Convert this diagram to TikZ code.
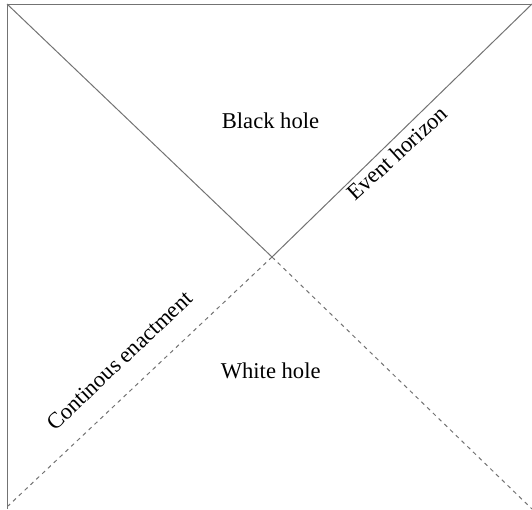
\documentclass[tikz,border=0pt]{standalone}
\usepackage{fontspec}
\setmainfont{Liberation Serif}
\begin{document}
\begin{tikzpicture}[x=1pt,y=-1pt,
  edge/.style={draw=black!55, line width=1pt},
  dashededge/.style={draw=black!55, line width=1pt, dash pattern=on 4pt off 4pt},
  lbl/.style={inner sep=0pt, font=\fontsize{22.6}{26}\selectfont}]
\useasboundingbox (0,0) rectangle (532,509);
\coordinate (tl) at (7,4);
\coordinate (tr) at (532,4);
\coordinate (bl) at (7,509);
\coordinate (blend) at (8,506);
\coordinate (br) at (532,509);
\coordinate (c) at (272,257);
\draw[edge] (tl) -- (tr);
\draw[edge] (tl) -- (bl);
\draw[edge] (tl) -- (c);
\draw[edge] (tr) -- (c);
\draw[dashededge] (c) -- (blend);
\draw[dashededge] (c) -- (br);
\node[lbl, anchor=base] (bh) at (270.5,128.3) {Black hole};
\node[lbl, anchor=base] (wh) at (270.7,378.3) {White hole};
\node[lbl, anchor=base west, rotate=42.5] (eh) at (355,202) {Event horizon};
\node[lbl, anchor=base west, rotate=43.5] (ce) at (55,432) {Continous enactment};
\end{tikzpicture}
\end{document}
